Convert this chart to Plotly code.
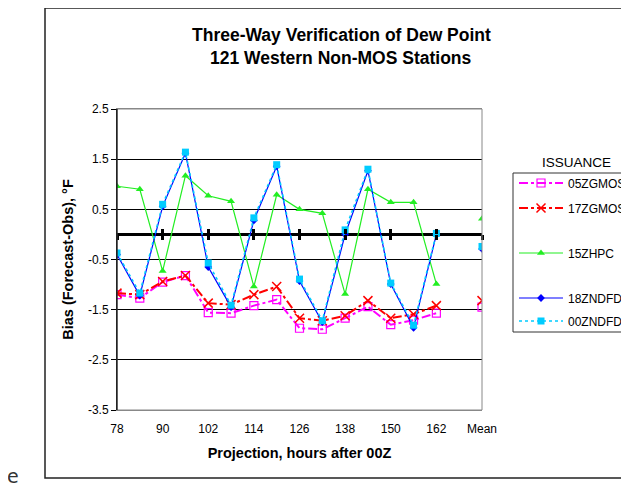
import plotly.graph_objects as go

categories = ["78", "84", "90", "96", "102", "108", "114", "120", "126",
              "132", "138", "144", "150", "156", "162", "168", "Mean"]
tick_labels = ["78", "90", "102", "114", "126", "138", "150", "162", "Mean"]
y_ticks = [-3.5, -2.5, -1.5, -0.5, 0.5, 1.5, 2.5]
y_tick_labels = ["-3.5", "-2.5", "-1.5", "-0.5", "0.5", "1.5", "2.5"]

gmos05 = [-1.20, -1.27, -0.95, -0.82, -1.56, -1.57, -1.42, -1.30, -1.87,
          -1.89, -1.67, -1.44, -1.80, -1.71, -1.57, None, -1.45]
gmos17 = [-1.17, -1.20, -0.94, -0.82, -1.37, -1.40, -1.20, -1.04, -1.67,
          -1.72, -1.62, -1.32, -1.67, -1.59, -1.42, None, -1.32]
hpc15 = [0.96, 0.90, -0.73, 1.17, 0.77, 0.66, -1.04, 0.79, 0.50,
         0.42, -1.19, 0.90, 0.64, 0.64, -0.99, None, 0.31]
ndfd18 = [-0.40, -1.22, 0.56, 1.62, -0.65, -1.45, 0.28, 1.36, -0.93,
          -1.75, 0.00, 1.27, -0.99, -1.86, 0.00, None, -0.29]
ndfd00 = [-0.37, -1.17, 0.60, 1.64, -0.57, -1.41, 0.33, 1.39, -0.89,
          -1.72, 0.09, 1.30, -0.97, -1.81, 0.02, None, -0.24]

fig = go.Figure()

fig.add_trace(go.Scatter(
    x=categories, y=gmos05, name="05ZGMOS", mode="lines+markers",
    line=dict(color="#FF00FF", width=2, dash="dashdot"),
    marker=dict(symbol="square-open", size=8, color="#FF00FF", line=dict(width=1.2)),
    legend="legend", connectgaps=False))
fig.add_trace(go.Scatter(
    x=categories, y=gmos17, name="17ZGMOS", mode="lines+markers",
    line=dict(color="#FF0000", width=2, dash="dashdot"),
    marker=dict(symbol="x-thin-open", size=9, color="#FF0000", line=dict(width=1.5, color="#FF0000")),
    legend="legend2", connectgaps=False))
fig.add_trace(go.Scatter(
    x=categories, y=hpc15, name="15ZHPC", mode="lines+markers",
    line=dict(color="#22EE22", width=1.2),
    marker=dict(symbol="triangle-up", size=7, color="#22EE22"),
    legend="legend3", connectgaps=False))
fig.add_trace(go.Scatter(
    x=categories, y=ndfd18, name="18ZNDFD", mode="lines+markers",
    line=dict(color="#0000FF", width=1.2),
    marker=dict(symbol="diamond", size=6, color="#0000FF"),
    legend="legend4", connectgaps=False))
fig.add_trace(go.Scatter(
    x=categories, y=ndfd00, name="00ZNDFD", mode="lines+markers",
    line=dict(color="#00CCFF", width=1.6, dash="dot"),
    marker=dict(symbol="square", size=7, color="#00CCFF"),
    legend="legend5", connectgaps=False))

# invisible helper traces so the zero-line tick axes are drawn
for ax in ("x2", "x3"):
    fig.add_trace(go.Scatter(x=categories, y=[None] * len(categories), xaxis=ax,
                             showlegend=False, hoverinfo="skip"))

font_family = "Liberation Sans, Arial, sans-serif"
zero_pos = (0 - (-3.5)) / 6.0


def px_x(px):
    return (px - 117) / 365


def px_y(py):
    return (410 - py) / 301


def legend_at(py):
    return dict(x=px_x(514), y=px_y(py), xanchor="left", yanchor="middle",
                bgcolor="rgba(0,0,0,0)", borderwidth=0, itemwidth=44,
                font=dict(size=12, family=font_family, color="black"))


fig.update_layout(
    width=629, height=487,
    margin=dict(l=109, r=155, t=101, b=85, autoexpand=False),
    paper_bgcolor="white", plot_bgcolor="white",
    font=dict(family=font_family, size=12, color="black"),
    showlegend=True,
    legend=legend_at(183),
    legend2=legend_at(208),
    legend3=legend_at(253),
    legend4=legend_at(298),
    legend5=legend_at(321),
    xaxis=dict(type="category", categoryorder="array", categoryarray=categories,
               range=[0, 16], tickvals=tick_labels, ticktext=tick_labels,
               showgrid=False, zeroline=False, showline=True, linecolor="#888888",
               linewidth=1, mirror=True, ticks="", tickfont=dict(size=12),
               ticklabelstandoff=8,
               title=dict(text="<b>Projection, hours after 00Z</b>", font=dict(size=14.5),
                          standoff=12)),
    xaxis2=dict(type="category", categoryorder="array", categoryarray=categories,
                matches="x", overlaying="x", anchor="free", position=zero_pos,
                tickvals=tick_labels, showticklabels=False, showgrid=False,
                zeroline=False, showline=False, ticks="outside", ticklen=5,
                tickwidth=2.5, tickcolor="black"),
    xaxis3=dict(type="category", categoryorder="array", categoryarray=categories,
                matches="x", overlaying="x", anchor="free", position=zero_pos,
                tickvals=tick_labels, showticklabels=False, showgrid=False,
                zeroline=False, showline=False, ticks="inside", ticklen=5,
                tickwidth=2.5, tickcolor="black"),
    yaxis=dict(range=[-3.5, 2.5], tickvals=y_ticks, ticktext=y_tick_labels,
               showgrid=True, gridcolor="black", gridwidth=1,
               zeroline=True, zerolinecolor="black", zerolinewidth=3,
               showline=True, linecolor="black", linewidth=1,
               ticks="outside", ticklen=5, tickcolor="black", tickfont=dict(size=12),
               title=dict(text="<b>Bias (Forecast-Obs), °F</b>", font=dict(size=14.5),
                          standoff=10)),
    shapes=[
        dict(type="rect", xref="x domain", yref="y domain", x0=0, x1=1, y0=0, y1=1,
             line=dict(color="#888888", width=1), layer="above"),
        dict(type="line", xref="x domain", yref="y domain", x0=0, x1=0, y0=0, y1=1,
             line=dict(color="black", width=1), layer="above"),
        dict(type="rect", xref="paper", yref="paper",
             x0=px_x(45), x1=px_x(645), y0=px_y(478), y1=px_y(8),
             line=dict(color="#222222", width=1.5), layer="below"),
        dict(type="rect", xref="paper", yref="paper",
             x0=px_x(513), x1=px_x(660), y0=px_y(332), y1=px_y(173),
             line=dict(color="#333333", width=1), layer="below"),
    ],
    annotations=[
        dict(text="<b>Three-Way Verification of Dew Point</b>", xref="paper", yref="paper",
             x=px_x(341), y=px_y(35), showarrow=False,
             xanchor="center", yanchor="middle", font=dict(size=17.5)),
        dict(text="<b>121 Western Non-MOS Stations</b>", xref="paper", yref="paper",
             x=px_x(341), y=px_y(58), showarrow=False,
             xanchor="center", yanchor="middle", font=dict(size=17.5)),
        dict(text="ISSUANCE", xref="paper", yref="paper",
             x=px_x(576), y=px_y(162), showarrow=False,
             xanchor="center", yanchor="middle", font=dict(size=13.5)),
        dict(text="e", xref="paper", yref="paper",
             x=px_x(13), y=px_y(476), showarrow=False,
             xanchor="center", yanchor="middle",
             font=dict(size=19, family="DejaVu Sans", color="#333333")),
    ],
)

fig.write_html("out.html")
